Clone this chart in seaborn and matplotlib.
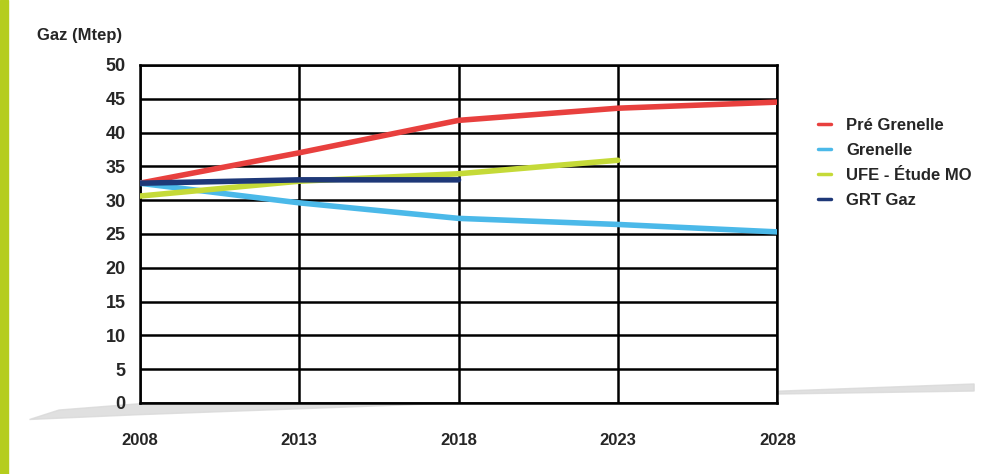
import pandas as pd
import matplotlib.pyplot as plt
import seaborn as sns

# values (Mtep)
years_pre = [2008, 2013, 2018, 2023, 2028]
pre_grenelle = [32.5, 37.0, 41.8, 43.6, 44.5]
years_gren = [2008, 2013, 2018, 2023, 2028]
grenelle = [32.5, 29.6, 27.3, 26.4, 25.3]
years_ufe = [2008, 2013, 2018, 2023]
ufe = [30.6, 32.8, 33.9, 35.9]
years_grt = [2008, 2013, 2018]
grt_gaz = [32.5, 33.0, 33.0]

series_names = ['Pré Grenelle', 'Grenelle', 'UFE - Étude MO', 'GRT Gaz']
colors = ['#e8403e', '#4bb9e9', '#c5da38', '#1e3878']
year_ticks = [2008, 2013, 2018, 2023, 2028]

df = pd.concat([
    pd.DataFrame({'year': years_pre, 'value': pre_grenelle, 'serie': series_names[0]}),
    pd.DataFrame({'year': years_gren, 'value': grenelle, 'serie': series_names[1]}),
    pd.DataFrame({'year': years_ufe, 'value': ufe, 'serie': series_names[2]}),
    pd.DataFrame({'year': years_grt, 'value': grt_gaz, 'serie': series_names[3]}),
])

sns.set_style('white')
plt.rcParams['font.family'] = ['Liberation Sans', 'DejaVu Sans']
plt.rcParams['font.weight'] = 'bold'

fig = plt.figure(figsize=(9.84, 4.74), dpi=100)
ax = fig.add_axes([0.142, 0.150, 0.648, 0.713])
ax.set_zorder(2)

sns.lineplot(data=df, x='year', y='value', hue='serie', hue_order=series_names,
             palette=colors, linewidth=4, ax=ax, legend=True, zorder=3)

ax.set_xlim(2008, 2028)
ax.set_ylim(0, 50)
ax.set_xticks(year_ticks)
ax.set_yticks(range(0, 51, 5))
ax.grid(True, color='black', linewidth=1.8)
for s in ax.spines.values():
    s.set_color('black')
    s.set_linewidth(1.8)
ax.set_xlabel('')
ax.set_ylabel('')
ax.tick_params(axis='y', labelsize=13, pad=10, length=0)
ax.tick_params(axis='x', labelsize=12, pad=22, length=0)
for lab in ax.get_xticklabels() + ax.get_yticklabels():
    lab.set_fontweight('bold')

# legend to the right
leg = ax.legend(loc='center left', bbox_to_anchor=(1.04, 0.71), frameon=False,
                fontsize=12, handlelength=0.8, handletextpad=0.9, labelspacing=0.6)
for t in leg.get_texts():
    t.set_fontweight('bold')
for h in leg.get_lines():
    h.set_linewidth(2.5)

# grey floor shadow under the chart
fig.patches.append(plt.Polygon([[0.03, 0.115], [0.14, 0.125], [0.99, 0.19], [0.99, 0.175],
                                [0.14, 0.148], [0.06, 0.135]],
                               closed=True, transform=fig.transFigure,
                               color='#d9d9d9', alpha=0.8, zorder=0))

fig.text(0.038, 0.925, 'Gaz (Mtep)', fontsize=12, fontweight='bold', va='center')
# green side bar
fig.patches.append(plt.Rectangle((0, 0), 0.008, 1, transform=fig.transFigure,
                                 color='#b5cd1e', zorder=5))

fig.savefig('out.png', dpi=100)
